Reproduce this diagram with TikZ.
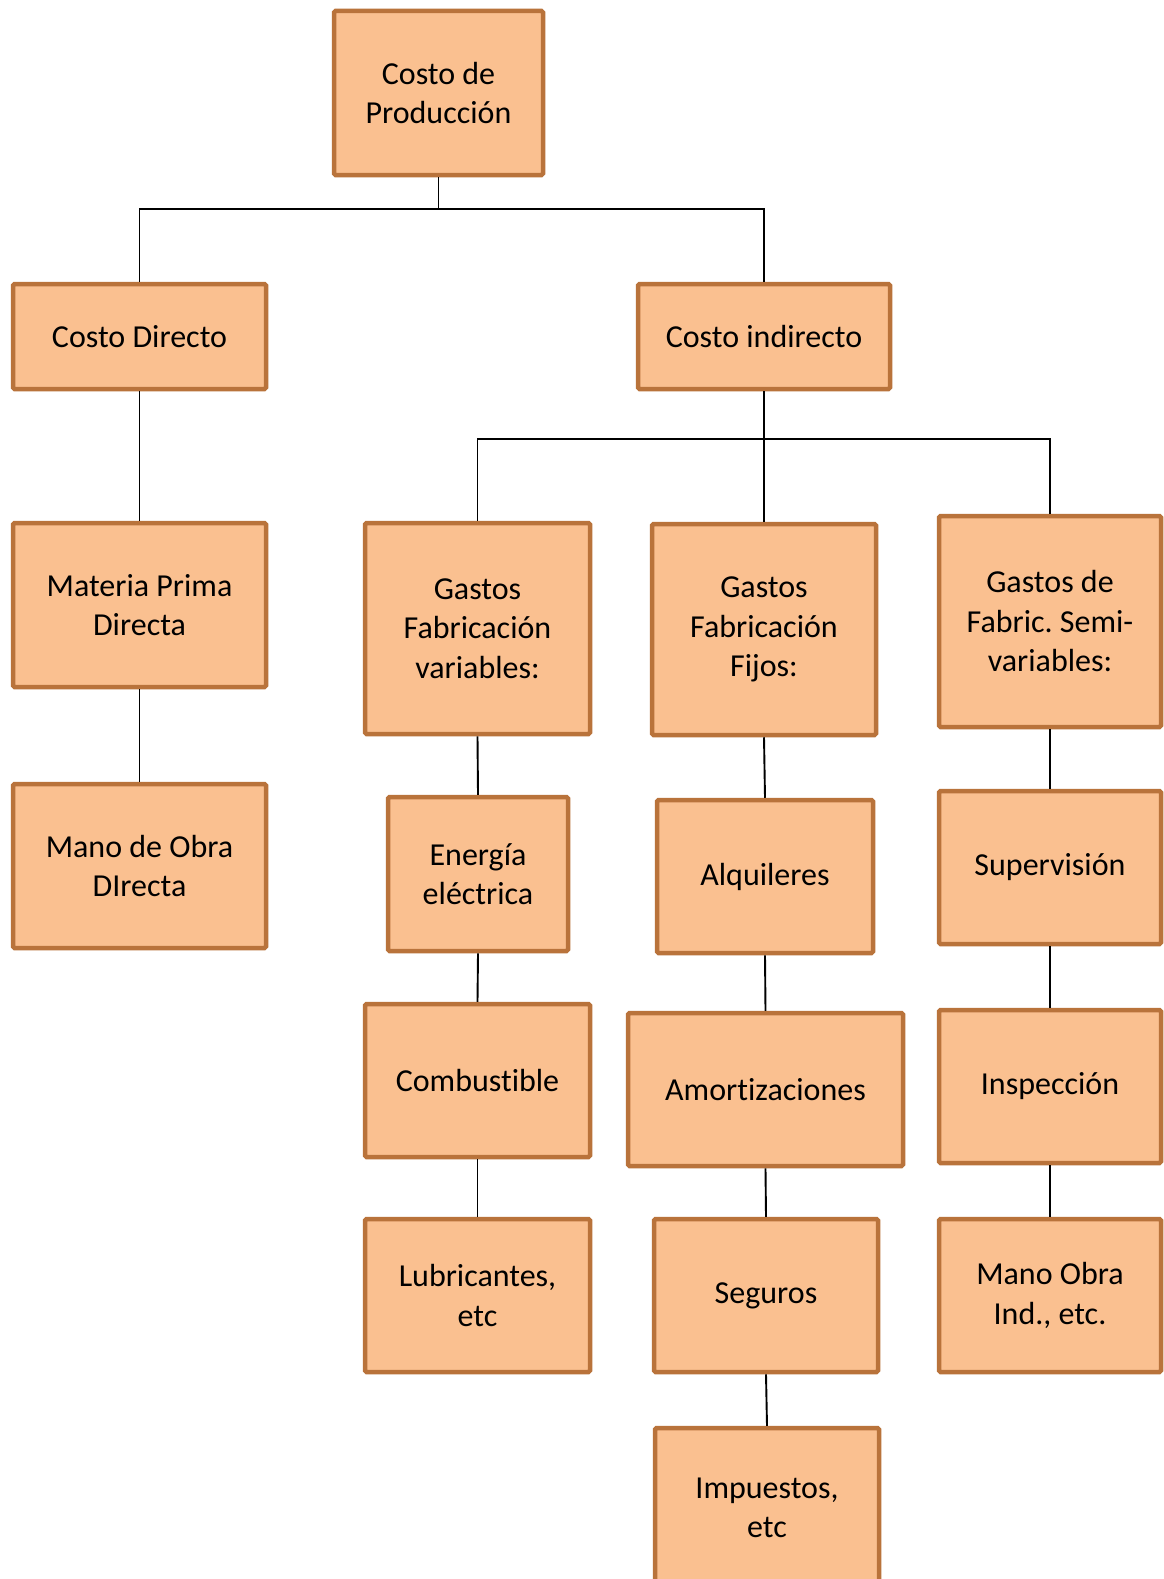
\documentclass[tikz,border=0pt]{standalone}
\usepackage{fontspec}
\setmainfont[Ligatures=NoCommon]{Carlito}
\definecolor{boxfill}{HTML}{FAC090}
\definecolor{boxline}{HTML}{B9733B}
\tikzset{
  box/.style={draw=boxline, fill=boxfill, line width=4.5pt, rounded corners=1.5pt,
    align=center, inner sep=0pt, font=\fontsize{32}{39.5}\selectfont\frenchspacing},
  link/.style={draw=black, line width=1.9pt},
}
% box at centre (x,y) with width w and height h
\newcommand\bx[6]{\node[box, minimum width=#4pt, minimum height=#5pt] (#1) at (#2,#3) {#6};}
\begin{document}
\begin{tikzpicture}[x=1pt, y=-1pt]
  \useasboundingbox (0,0) rectangle (1164,1579);
  \clip (0,0) rectangle (1164,1579);
  \fill[white] (0,0) rectangle (1164,1579);

  % top levels
  \bx{prod}{438.5}{93}{209}{164}{Costo de\\Producción}
  \bx{dir}{139.5}{336.5}{253}{105}{Costo Directo}
  \bx{ind}{764}{336.5}{252}{105}{Costo indirecto}

  % direct cost branch
  \bx{mp}{139.5}{605}{253}{164}{Materia Prima\\Directa}
  \bx{mo}{139.5}{866}{253}{164}{Mano de Obra\\DIrecta}

  % indirect cost groups
  \bx{gv}{477.5}{628.5}{225}{211}{Gastos\\Fabricación\\variables:}
  \bx{gf}{764}{629.5}{224}{211}{Gastos\\Fabricación\\Fijos:}
  \bx{gs}{1050}{621.5}{222}{211}{Gastos de\\Fabric. Semi-\\variables:}

  % variable items
  \bx{en}{478}{874}{180}{154}{Energía\\eléctrica}
  \bx{co}{477.5}{1080.5}{225}{153}{Combustible}
  \bx{lu}{477.5}{1295.5}{225}{153}{Lubricantes,\\etc}

  % fixed items
  \bx{al}{765}{876.5}{216}{153}{Alquileres}
  \bx{am}{765.5}{1089.5}{275}{153}{Amortizaciones}
  \bx{se}{766}{1295.5}{224}{153}{Seguros}
  \bx{im}{767}{1508}{224}{160}{Impuestos,\\etc}

  % semi-variable items
  \bx{su}{1050}{867.5}{222}{153}{Supervisión}
  \bx{in}{1050}{1086.5}{222}{153}{Inspección}
  \bx{mi}{1050}{1295.5}{222}{153}{Mano Obra\\Ind., etc.}

  % connectors
  \coordinate (j1) at (438.5,209);
  \coordinate (j2) at (764,439);
  \draw[link] (prod.south) -- (j1);
  \draw[link] (dir.north) |- (j1);
  \draw[link] (ind.north) |- (j1);
  \draw[link] (ind.south) -- (j2) -- (gf.north);
  \draw[link] (gv.north) |- (j2);
  \draw[link] (gs.north) |- (j2);

  \draw[link] (dir.south) -- (mp.north);
  \draw[link] (mp.south) -- (mo.north);

  \draw[link] (gv.south) -- (en.north);
  \draw[link] (en.south) -- (co.north);
  \draw[link] (co.south) -- (lu.north);

  \draw[link] (gf.south) -- (al.north);
  \draw[link] (al.south) -- (am.north);
  \draw[link] (am.south) -- (se.north);
  \draw[link] (se.south) -- (im.north);

  \draw[link] (gs.south) -- (su.north);
  \draw[link] (su.south) -- (in.north);
  \draw[link] (in.south) -- (mi.north);
\end{tikzpicture}
\end{document}
